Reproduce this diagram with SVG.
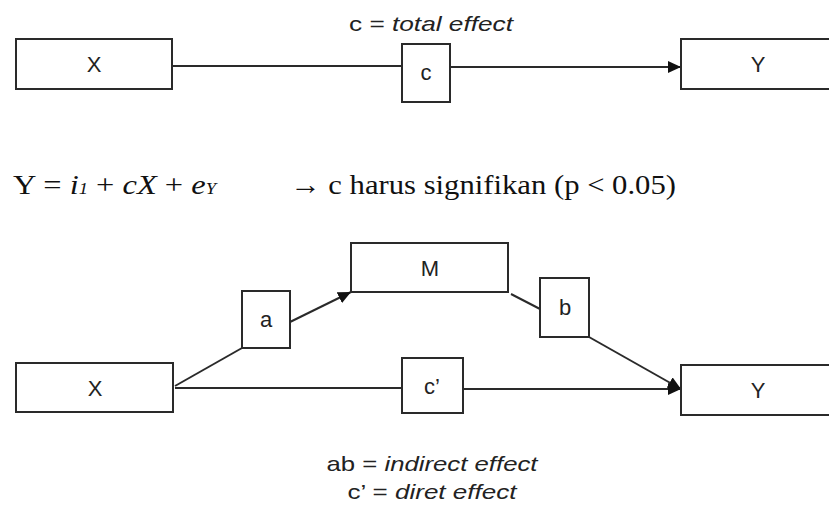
<svg xmlns="http://www.w3.org/2000/svg" width="829" height="512" viewBox="0 0 829 512">
<style>
.box{fill:#fff;stroke:#2a2a2a;stroke-width:2}
.lbl{font-family:"Liberation Sans",Arial,sans-serif;font-size:22px;fill:#222;text-anchor:middle}
.cap{font-family:"Liberation Sans",Arial,sans-serif;font-size:21px;fill:#222;text-anchor:middle}
.eq{font-family:"Liberation Serif","Times New Roman",serif;font-size:28px;fill:#111}
.ln{stroke:#2a2a2a;stroke-width:2;fill:none}
</style>
<defs>
<marker id="ah" markerUnits="userSpaceOnUse" markerWidth="14" markerHeight="12" refX="13" refY="6" orient="auto">
<path d="M0,0 L13,6 L0,12 z" fill="#111"/>
</marker>
</defs>
<rect width="829" height="512" fill="#fff"/>
<g id="connectors">
<line class="ln" x1="173" y1="66" x2="402" y2="66"/>
<line class="ln" x1="450" y1="67" x2="681" y2="67" marker-end="url(#ah)"/>
<line class="ln" x1="175" y1="386" x2="242" y2="348"/>
<line class="ln" x1="290" y1="322" x2="351" y2="292" marker-end="url(#ah)"/>
<line class="ln" x1="511" y1="294" x2="540" y2="309"/>
<line class="ln" x1="589" y1="337" x2="681" y2="389" marker-end="url(#ah)"/>
<line class="ln" x1="175" y1="388" x2="402" y2="388"/>
<line class="ln" x1="463" y1="389" x2="681" y2="389" marker-end="url(#ah)"/>
</g>
<text class="cap" x="431" y="31" textLength="164" lengthAdjust="spacingAndGlyphs">c = <tspan font-style="italic">total effect</tspan></text>
<g id="X1"><rect class="box" x="16" y="39" width="156" height="50"/><text class="lbl" x="94" y="72">X</text></g>
<g id="c"><rect class="box" x="402" y="44" width="48" height="58"/><text class="lbl" x="426" y="80">c</text></g>
<g id="Y1"><rect class="box" x="681" y="39" width="160" height="50"/><text class="lbl" x="758" y="72">Y</text></g>
<text class="eq" x="13" y="194" textLength="203" lengthAdjust="spacingAndGlyphs">Y = <tspan font-style="italic">i</tspan><tspan font-style="italic" font-size="16">1</tspan> + <tspan font-style="italic">cX</tspan> + <tspan font-style="italic">e</tspan><tspan font-style="italic" font-size="16">Y</tspan></text>
<text class="eq" x="290" y="194" textLength="386" lengthAdjust="spacingAndGlyphs">→ c harus signifikan (p &lt; 0.05)</text>
<g id="M"><rect class="box" x="351" y="243" width="157" height="49"/><text class="lbl" x="430" y="276">M</text></g>
<g id="a"><rect class="box" x="242" y="291" width="48" height="57"/><text class="lbl" x="266" y="327">a</text></g>
<g id="b"><rect class="box" x="540" y="278" width="49" height="59"/><text class="lbl" x="565" y="315">b</text></g>
<g id="X2"><rect class="box" x="16" y="363" width="157" height="49"/><text class="lbl" x="95" y="396">X</text></g>
<g id="cp"><rect class="box" x="402" y="358" width="61" height="55"/><text class="lbl" x="432" y="394">c’</text></g>
<g id="Y2"><rect class="box" x="681" y="365" width="160" height="50"/><text class="lbl" x="758" y="398">Y</text></g>
<text class="cap" x="432" y="471" textLength="211" lengthAdjust="spacingAndGlyphs">ab = <tspan font-style="italic">indirect effect</tspan></text>
<text class="cap" x="432" y="499" textLength="169" lengthAdjust="spacingAndGlyphs">c’ = <tspan font-style="italic">diret effect</tspan></text>
</svg>
